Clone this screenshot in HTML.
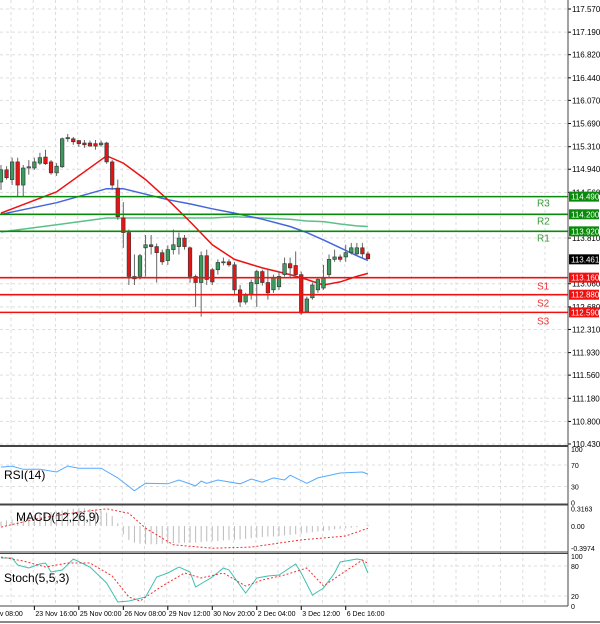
<!DOCTYPE html>
<html><head><meta charset="utf-8"><style>
html,body{margin:0;padding:0;background:#fff;}
svg{display:block;font-family:"Liberation Sans",sans-serif;}
</style></head><body>
<svg id="c" width="600" height="624" viewBox="0 0 600 624"></svg>
<script>
// ---- data ----
const opens  = [114.73,114.93,114.77,115.06,114.68,114.96,114.96,115.04,115.14,115.06,114.88,114.98,115.44,115.44,115.41,115.37,115.37,115.36,115.34,115.37,115.06,114.63,114.14,113.90,113.14,113.18,113.65,113.70,113.67,113.57,113.44,113.62,113.67,113.81,113.65,113.18,113.08,113.52,113.29,113.29,113.42,113.42,113.37,112.96,112.76,112.88,113.06,113.26,113.08,112.96,113.01,113.21,113.39,113.36,113.21,112.60,112.83,112.96,112.99,113.21,113.46,113.50,113.50,113.57,113.55,113.65,113.55];
const closes = [114.93,114.80,115.06,114.68,114.96,114.98,115.06,115.13,115.03,114.88,114.99,115.44,115.46,115.39,115.36,115.34,115.32,115.32,115.37,115.06,114.68,114.16,113.90,113.18,113.18,113.52,113.70,113.67,113.57,113.42,113.62,113.70,113.81,113.67,113.18,113.08,113.52,113.13,113.09,113.41,113.42,113.37,112.96,112.76,112.88,113.08,113.26,113.08,112.91,113.16,113.18,113.39,113.32,113.21,112.58,112.81,113.04,113.13,113.16,113.46,113.50,113.46,113.57,113.65,113.65,113.55,113.47];
const highs  = [115.01,114.99,115.13,115.13,115.01,115.09,115.13,115.21,115.26,115.09,115.04,115.46,115.52,115.47,115.42,115.42,115.41,115.42,115.41,115.39,115.09,114.77,114.40,113.95,113.54,113.55,113.86,113.86,113.72,113.62,113.69,113.95,113.90,113.86,113.67,113.21,113.59,113.62,113.32,113.46,113.49,113.46,113.42,113.04,112.91,113.13,113.29,113.29,113.29,113.21,113.26,113.49,113.49,113.59,113.26,112.85,113.08,113.16,113.37,113.54,113.62,113.54,113.70,113.73,113.73,113.73,113.59];
const lows   = [114.60,114.77,114.68,114.50,114.50,114.85,114.93,115.01,115.01,114.85,114.83,114.96,115.39,115.34,115.31,115.29,115.31,115.26,115.31,115.03,114.60,114.11,113.65,113.04,113.04,113.13,113.18,113.54,113.08,113.37,113.37,113.54,113.54,113.62,113.08,112.68,112.52,113.04,113.04,113.21,113.36,113.34,112.88,112.68,112.72,112.80,112.68,113.03,112.80,112.91,112.96,113.18,113.16,113.16,112.55,112.58,112.80,112.91,112.96,113.16,113.42,113.42,113.42,113.54,113.52,113.49,113.46];
const maIdx   = [0,10,19,22,26,30,34,38,42,47,52,55,58,61,64,66];
const maFast  = [114.22,114.57,115.16,115.04,114.77,114.44,114.08,113.70,113.46,113.32,113.21,113.13,113.04,113.09,113.18,113.23];
const maMid   = [114.20,114.39,114.62,114.62,114.53,114.44,114.37,114.29,114.22,114.12,114.00,113.90,113.78,113.65,113.52,113.44];
const maSlow  = [113.91,114.03,114.14,114.14,114.14,114.14,114.14,114.14,114.16,114.14,114.12,114.09,114.08,114.04,114.01,114.00];
const priceTicks = ["117.570","117.190","116.820","116.440","116.070","115.690","115.310","114.940","114.560","113.810","113.060","112.680","112.310","111.930","111.560","111.180","110.800","110.430"];
const levelNames = ["R3","R2","R1","S1","S2","S3"];
const levelValues = [114.49,114.20,113.92,113.16,112.88,112.59];
const lastPrice = 113.461;
const rsiIdx = [0,2,4,7,10,12,14,18,21,24,26,30,32,35,36,37,39,43,45,47,49,51,52,55,57,61,65,66];
const rsiVals = [66,68,62,62,57,68,64,64,46,22,36,35,42,31,40,36,42,35,44,38,46,42,51,36,46,55,57,53];
const macdHist = [0.08,0.10,0.12,0.14,0.16,0.18,0.20,0.22,0.24,0.25,0.26,0.28,0.30,0.31,0.32,0.32,0.31,0.30,0.28,0.24,0.18,0.05,-0.15,-0.25,-0.30,-0.32,-0.33,-0.33,-0.33,-0.32,-0.32,-0.31,-0.31,-0.30,-0.30,-0.30,-0.29,-0.28,-0.27,-0.27,-0.26,-0.25,-0.25,-0.24,-0.23,-0.22,-0.21,-0.20,-0.19,-0.19,-0.18,-0.17,-0.16,-0.15,-0.14,-0.12,-0.11,-0.10,-0.09,-0.08,-0.06,-0.05,-0.04,-0.03,-0.02,0.00,0.02];
const sigIdx = [0,7,14,19,23,26,31,38,45,54,62,66];
const sigVals = [-0.02,0.14,0.25,0.31,0.23,-0.04,-0.34,-0.40,-0.38,-0.25,-0.18,-0.04];
const stIdx = [0,2,3,5,7,8,9,11,13,16,19,21,23,26,28,30,32,34,35,38,40,41,44,46,48,50,53,54,56,58,60,61,64,65,66];
const stMain = [96,96,82,76,84,86,68,72,94,78,46,8,10,18,58,66,78,68,38,58,76,72,26,56,60,62,84,66,22,36,66,88,94,92,66];
const stSigIdx = [0,4,8,12,16,20,23,25,29,33,36,40,44,47,51,55,58,62,65,66];
const stSig = [98,90,78,86,86,60,18,10,40,66,56,66,40,52,62,76,40,70,92,85];
const timeLabels = ["Nov 08:00","23 Nov 16:00","25 Nov 00:00","26 Nov 08:00","29 Nov 12:00","30 Nov 20:00","2 Dec 04:00","3 Dec 12:00","6 Dec 16:00"];
const timeIdx = [-2,6,14,22,30,38,46,54,62];

// ---- scales ----
const NS="http://www.w3.org/2000/svg", svg=document.getElementById('c');
const AX=568;
const X=i=>1+i*5.56;
const Y=p=>9+(117.57-p)*60.92;
const YR=v=>502.6-v*0.5375;
const YM=v=>526-v*55.4;
const YS=v=>606-v*0.5;
function el(t,a,p){const e=document.createElementNS(NS,t);for(const k in a)e.setAttribute(k,a[k]);(p||svg).appendChild(e);return e;}
function txt(x,y,s,a){const e=el('text',Object.assign({x:x,y:y,'font-size':8,fill:'#000'},a||{}));e.textContent=s;return e;}
function poly(idx,vals,f,attrs){return el('polyline',Object.assign({points:idx.map((k,j)=>X(k).toFixed(1)+','+f(vals[j]).toFixed(1)).join(' '),fill:'none'},attrs));}

// grids
const grid=el('g',{});


for(let gx=545;gx>0;gx-=22.25){el('line',{x1:gx,x2:gx,y1:0,y2:606,stroke:'#ddd','stroke-dasharray':'3,3'},grid);}
priceTicks.forEach(t=>{const y=Y(parseFloat(t));el('line',{x1:0,x2:AX,y1:y,y2:y,stroke:'#ddd','stroke-dasharray':'3,3'},grid);});
[30,70].forEach(v=>el('line',{x1:0,x2:AX,y1:YR(v),y2:YR(v),stroke:'#ddd','stroke-dasharray':'3,3'},grid));
[20,80].forEach(v=>el('line',{x1:0,x2:AX,y1:YS(v),y2:YS(v),stroke:'#ddd','stroke-dasharray':'3,3'},grid));

// price ticks
priceTicks.forEach(t=>{const y=Y(parseFloat(t));el('line',{x1:AX,x2:AX+3,y1:y,y2:y,stroke:'#000'});
const e=txt(AX+4,y+3,t);});

// MAs
const m1=poly(maIdx,maSlow,Y,{stroke:'#5cc08a','stroke-width':1.5});

const m2=poly(maIdx,maMid,Y,{stroke:'#4466dd','stroke-width':1.5});

const m3=poly(maIdx,maFast,Y,{stroke:'#ee1111','stroke-width':1.5});


// candles
opens.forEach((o,i)=>{const c=closes[i],x=X(i),up=c>=o;
const g=el('g',{});


el('line',{x1:x,x2:x,y1:Y(highs[i]),y2:Y(lows[i]),stroke:'#666'},g);
const t=Math.min(Y(o),Y(c)),h=Math.max(1,Math.abs(Y(o)-Y(c)));
el('rect',{x:x-1.8,y:t,width:3.6,height:h,fill:up?'#3c9a5e':'#e41515',stroke:'#333','stroke-width':0.6},g);});

// levels
levelValues.forEach((v,i)=>{const y=Y(v),res=i<3,col=res?'#0a8a0a':'#f01010';
const l=el('line',{x1:0,x2:AX,y1:y,y2:y,stroke:col,'stroke-width':1.6});

const n=txt(537,y+(res?10:12),levelNames[i],{'font-size':10,fill:res?'#3a9a3a':'#f03030'});

el('rect',{x:AX+1,y:y-5,width:30,height:10,fill:res?'#0a8a0a':'#f01010'});
const b=txt(AX+3,y+3,v.toFixed(3),{fill:'#fff'});
});
const ly=Y(lastPrice);
el('rect',{x:AX+1,y:ly-5,width:30,height:10,fill:'#000'});
const lp=txt(AX+3,ly+3,lastPrice.toFixed(3),{fill:'#fff'});


// RSI
const r=poly(rsiIdx,rsiVals,YR,{stroke:'#55aaff','stroke-width':1});

[[100,'100'],[70,'70'],[30,'30'],[0,'0']].forEach(a=>{txt(AX+3,YR(a[0])+3,a[1],{'font-size':7});});

// MACD
macdHist.forEach((v,i)=>{const b=el('line',{x1:X(i),x2:X(i),y1:YM(0),y2:YM(v),stroke:'#bbb','stroke-width':1});
});
const s=poly(sigIdx,sigVals,YM,{stroke:'#f03030','stroke-width':1,'stroke-dasharray':'2,2'});

[[0.3163,'0.3163'],[0,'0.00'],[-0.3974,'-0.3974']].forEach(a=>{txt(AX+3,YM(a[0])+3,a[1],{'font-size':7});});

// Stoch
const st1=poly(stIdx,stMain,YS,{stroke:'#40c0b0','stroke-width':1});

const st2=poly(stSigIdx,stSig,YS,{stroke:'#f03030','stroke-width':1,'stroke-dasharray':'2,2'});

[[100,'100'],[80,'80'],[20,'20'],[0,'0']].forEach(a=>{txt(AX+3,YS(a[0])+3,a[1],{'font-size':7});});

// panel borders / axes
[[446,2],[504,1],[505,1],[552,1],[553.5,1],[606,1]].forEach(a=>el('line',{x1:0,x2:AX,y1:a[0],y2:a[0],stroke:'#444','stroke-width':a[1]}));
el('line',{x1:AX,x2:AX,y1:0,y2:606,stroke:'#444'});
el('line',{x1:0,x2:600,y1:622,y2:622,stroke:'#888','stroke-width':2});

// indicator titles
const t1=txt(4,479,'RSI(14)',{'font-size':12});
const t2=txt(16,521,'MACD(12,26,9)',{'font-size':12});
const t3=txt(4,582,'Stoch(5,5,3)',{'font-size':12});

// time axis
timeLabels.forEach((t,j)=>{const x=X(timeIdx[j]);el('line',{x1:x,x2:x,y1:606,y2:610,stroke:'#000'});
const e=txt(x+1,616,t,{'font-size':7});});
</script>
</body></html>
